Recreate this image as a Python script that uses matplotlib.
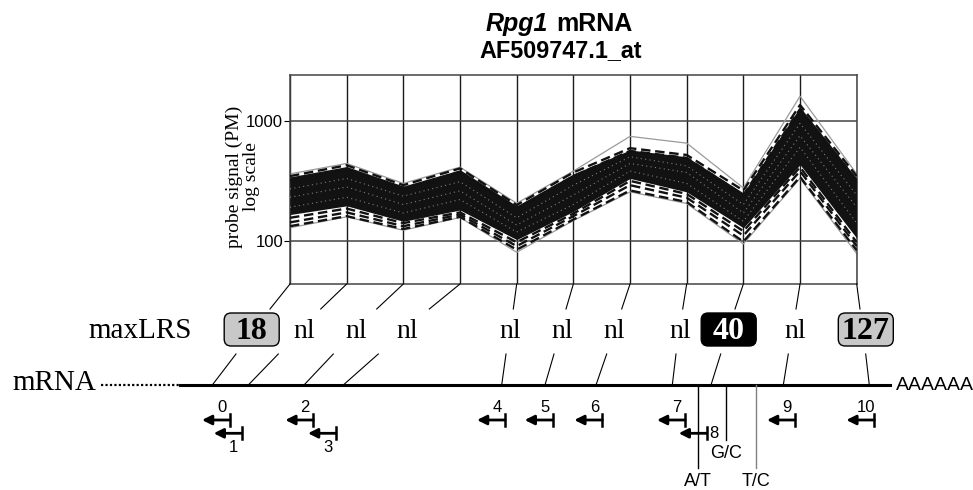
import matplotlib
matplotlib.use('Agg')
import matplotlib.pyplot as plt
from matplotlib.patches import FancyBboxPatch
from matplotlib.ticker import NullLocator

# --- probe signal data (PM, log scale) ---
probes = list(range(11))
core_hi = [340, 415, 285, 390, 195, 360, 570, 500, 250, 1300, 330]
core_lo = [165, 195, 145, 180, 102, 175, 330, 255, 128, 430, 105]
upper_dash = [[345, 425, 290, 400, 198, 370, 590, 518, 262, 1350, 345],
              [320, 395, 270, 375, 185, 345, 560, 490, 240, 1250, 320]]
lower_dash = [[155, 185, 140, 172, 97, 168, 315, 245, 120, 410, 97],
              [142, 172, 132, 165, 90, 160, 290, 228, 110, 380, 90],
              [132, 160, 125, 158, 84, 150, 262, 210, 98, 340, 83]]
gray_lines = [[360, 440, 300, 410, 205, 380, 740, 650, 275, 1600, 360],
              [128, 158, 122, 156, 80, 147, 255, 204, 94, 330, 78]]
texture = [[230, 280, 200, 260, 135, 240, 440, 370, 170, 750, 190],
           [190, 230, 170, 220, 118, 200, 380, 300, 145, 600, 140],
           [270, 330, 235, 310, 155, 290, 500, 420, 200, 950, 240]]

# --- annotation data ---
max_lrs = ["18", "nl", "nl", "nl", "nl", "nl", "nl", "nl", "40", "nl", "127"]
probe_names = ["0", "1", "2", "3", "4", "5", "6", "7", "8", "9", "10"]
snp_names = ["A/T", "G/C", "T/C"]

# layout (pixels of the 973x490 image)
W, H = 973, 490
AX_L, AX_R, AX_T, AX_B = 290, 856.7, 75.3, 284
lbl_x = [251.7, 304, 356, 407, 510.7, 562.7, 614, 680, 728.7, 795, 865.8]
up_end_x = [270, 320.7, 376.7, 429.3, 513.3, 566, 621.7, 682.7, 735, 796, 860]
low_top_x = [236, 278.3, 333.3, 378.3, 506, 554, 606.7, 676, 720.7, 788.3, 865.7]
low_bot_x = [212.3, 248.3, 304, 343.3, 501.7, 545, 596, 672.3, 711, 783.3, 869.3]
arrow_end_x = [230, 241.7, 313.3, 336, 505, 552.7, 602.3, 685, 706.7, 795, 874.3]
arrow_row = [0, 1, 0, 1, 0, 0, 0, 0, 1, 0, 0]
snp_x = [698.3, 725.7, 756]
snp_len = [83, 55, 83]
snp_col = ['black', 'black', '#808080']
MRNA_Y = 385
SANS = ['Liberation Sans', 'DejaVu Sans']
SERIF = ['Liberation Serif', 'DejaVu Serif']

fig = plt.figure(figsize=(W / 100, H / 100), dpi=100)
ax = fig.add_axes([AX_L / W, 1 - AX_B / H, (AX_R - AX_L) / W, (AX_B - AX_T) / H])

# --- the probe signal panel ---
ax.fill_between(probes, core_lo, core_hi, color='#121212', lw=0, zorder=3)
for s in texture:
    ax.plot(probes, s, color='white', ls=(0, (1, 3)), lw=0.8, alpha=0.45, zorder=4)
for s in upper_dash + lower_dash:
    ax.plot(probes, s, color='#111111', ls=(0, (4, 2)), lw=1.7, zorder=4)
for s in gray_lines:
    ax.plot(probes, s, color='#9a9a9a', lw=0.9, zorder=2)

ax.set_yscale('log')
ax.set_xlim(0, 10)
ax.set_ylim(43.5, 2390)
ax.set_yticks([100, 1000])
ax.set_yticklabels(['100', '1000'], family=SANS, fontsize=12)
ax.yaxis.set_minor_locator(NullLocator())
ax.set_xticks(probes)
ax.tick_params(axis='x', length=0, labelbottom=False)
ax.tick_params(axis='y', length=4, direction='out', pad=1)
ax.grid(True, axis='x', color='#1a1a1a', lw=1.0, zorder=1)
ax.grid(True, axis='y', color='#444444', lw=1.1, zorder=1)
ax.set_axisbelow(True)
for sp in ax.spines.values():
    sp.set_color('#444444')
    sp.set_linewidth(1.1)

# --- overlay in pixel coords for the gene diagram ---
ov = fig.add_axes([0, 0, 1, 1])
ov.set_xlim(0, W)
ov.set_ylim(H, 0)
ov.axis('off')

# y label as two separate lines (keeps clear of the tick labels)
ov.text(234, 177, 'probe signal (PM)', rotation=90, ha='center', va='center',
        family=SERIF, fontsize=14)
ov.text(252, 177, 'log scale', rotation=90, ha='center', va='center',
        family=SERIF, fontsize=14)

ov.text(548, 24, 'Rpg1', ha='right', va='center', family=SANS, fontsize=18,
        fontweight='bold', style='italic')
ov.text(556, 24, 'mRNA', ha='left', va='center', family=SANS, fontsize=18,
        fontweight='bold')
ov.text(561, 51, 'AF509747.1_at', ha='center', va='center', family=SANS,
        fontsize=16.8, fontweight='bold')

step = (AX_R - AX_L) / 10
for i in probes:
    # connectors: panel -> maxLRS row -> mRNA
    ov.plot([AX_L + i * step, up_end_x[i]], [AX_B, 309], color='black', lw=0.8)
    ov.plot([low_top_x[i], low_bot_x[i]], [354, MRNA_Y], color='black', lw=0.8)

    v = max_lrs[i]
    if v == 'nl':
        ov.text(lbl_x[i], 331, v, ha='center', va='center', family=SERIF, fontsize=20)
    else:
        fc = 'black' if v == '40' else '#c8c8c8'
        tc = 'white' if v == '40' else 'black'
        ov.add_patch(FancyBboxPatch((lbl_x[i] - 26, 314.5), 52, 30,
                                    boxstyle='round,pad=1.5,rounding_size=7',
                                    fc=fc, ec='black', lw=1.0))
        ov.text(lbl_x[i], 331, v, ha='center', va='center', family=SERIF,
                fontsize=23, fontweight='bold', color=tc)

    # probe arrows
    y = 420 if arrow_row[i] == 0 else 433.3
    xe = arrow_end_x[i]
    ov.annotate('', xy=(xe - 28, y), xytext=(xe, y),
                arrowprops=dict(arrowstyle='-|>', color='black', lw=2,
                                mutation_scale=14, shrinkA=0, shrinkB=0))
    ov.plot([xe, xe], [y - 6, y + 6], color='black', lw=1.8)
    if i == 8:
        ov.text(xe + 3, y, probe_names[i], ha='left', va='center', family=SANS, fontsize=12)
    elif arrow_row[i] == 0:
        ov.text(xe - 8, y - 13, probe_names[i], ha='center', va='center', family=SANS, fontsize=12)
    else:
        ov.text(xe - 8, y + 14, probe_names[i], ha='center', va='center', family=SANS, fontsize=12)

ov.text(88, 331, 'maxLRS', ha='left', va='center', family=SERIF, fontsize=21)
ov.text(12, 383, 'mRNA', ha='left', va='center', family=SERIF, fontsize=21)
ov.plot([101, 180], [MRNA_Y, MRNA_Y], color='black', lw=1.6, ls=(0, (1, 1)))
ov.plot([180, 890], [MRNA_Y, MRNA_Y], color='black', lw=2.2)
ov.text(896, MRNA_Y, 'AAAAAA', ha='left', va='center', family=SANS, fontsize=14)

# SNP positions
for k, name in enumerate(snp_names):
    ov.plot([snp_x[k], snp_x[k]], [MRNA_Y, MRNA_Y + snp_len[k]], color=snp_col[k], lw=1.0)
    ov.text(snp_x[k], MRNA_Y + snp_len[k] + 13, name, ha='center', va='center',
            family=SANS, fontsize=13)

fig.savefig('out.png', dpi=100)
